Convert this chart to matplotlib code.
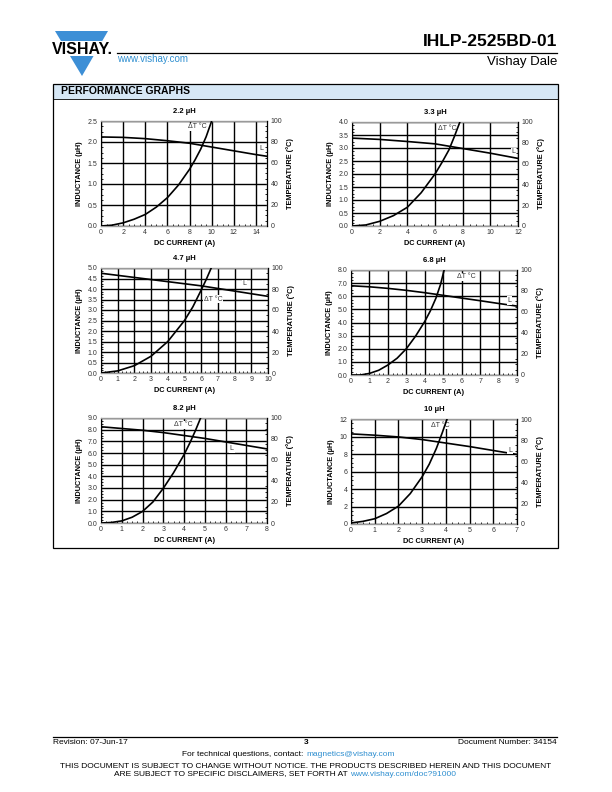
import matplotlib
matplotlib.use("Agg")
import matplotlib.pyplot as plt
from matplotlib.patches import Polygon, Rectangle
from matplotlib.lines import Line2D
from matplotlib.ticker import MultipleLocator, AutoMinorLocator

plt.rcParams['font.family'] = ['Liberation Sans', 'DejaVu Sans']

# ---------------- data ----------------
titles = ["2.2 µH", "3.3 µH", "4.7 µH", "6.8 µH", "8.2 µH", "10 µH"]
x_max = [15, 12, 10, 9, 8, 7]
x_step = [2, 2, 1, 1, 1, 1]
l_max = [2.5, 4.0, 5.0, 8.0, 9.0, 12]
l_step = [0.5, 0.5, 0.5, 1.0, 1.0, 2]
l_fmt = ["{:.1f}", "{:.1f}", "{:.1f}", "{:.1f}", "{:.1f}", "{:.0f}"]

# inductance curves (current A, inductance µH)
l_i_22 = [0, 2, 4, 6, 8, 10, 12, 14, 15]
l_v_22 = [2.12, 2.11, 2.08, 2.03, 1.97, 1.88, 1.79, 1.70, 1.66]
l_i_33 = [0, 2, 4, 6, 8, 10, 12]
l_v_33 = [3.38, 3.33, 3.25, 3.16, 2.98, 2.80, 2.60]
l_i_47 = [0, 2, 4, 6, 8, 10]
l_v_47 = [4.75, 4.55, 4.35, 4.15, 3.90, 3.65]
l_i_68 = [0, 1, 2, 3, 4, 5, 6, 7, 8, 9]
l_v_68 = [6.80, 6.72, 6.60, 6.45, 6.27, 6.07, 5.86, 5.66, 5.45, 5.25]
l_i_82 = [0, 1, 2, 3, 4, 5, 6, 7, 8]
l_v_82 = [8.25, 8.10, 7.95, 7.75, 7.50, 7.25, 6.95, 6.65, 6.35]
l_i_10 = [0, 1, 2, 3, 4, 5, 6, 7]
l_v_10 = [10.3, 10.15, 9.95, 9.65, 9.25, 8.85, 8.40, 7.95]

# temperature rise curves (current A, deltaT °C)
t_i_22 = [0, 1, 2, 3, 4, 5, 6, 7, 8, 8.5, 9, 9.5, 10.0]
t_v_22 = [0, 0.8, 3, 6.5, 11, 18, 27, 39, 54, 63, 73, 85, 100]
t_i_33 = [0, 1, 2, 3, 4, 5, 6, 6.5, 7, 7.4, 7.8]
t_v_33 = [0, 1, 4.5, 10, 18, 32, 50, 61, 73, 86, 100]
t_i_47 = [0, 1, 2, 3, 4, 5, 5.5, 6, 6.3, 6.6]
t_v_47 = [0, 2, 7, 16, 30, 50, 63, 79, 89, 100]
t_i_68 = [0, 0.5, 1, 1.5, 2, 2.5, 3, 3.5, 4, 4.3, 4.6, 4.85, 5.05]
t_v_68 = [0, 0, 1.5, 4.5, 9.5, 16, 25, 37, 51, 61, 73, 86, 100]
t_i_82 = [0, 0.5, 1, 1.5, 2, 2.5, 3, 3.5, 4, 4.3, 4.55, 4.8]
t_v_82 = [0, 0.5, 2, 5.5, 11, 20, 33, 48, 65, 77, 88, 100]
t_i_10 = [0, 0.5, 1, 1.5, 2, 2.5, 3, 3.3, 3.6, 3.85, 4.05]
t_v_10 = [1, 2.5, 5, 10, 17, 29, 45, 57, 72, 87, 100]

l_curves = [(l_i_22, l_v_22), (l_i_33, l_v_33), (l_i_47, l_v_47),
            (l_i_68, l_v_68), (l_i_82, l_v_82), (l_i_10, l_v_10)]
t_curves = [(t_i_22, t_v_22), (t_i_33, t_v_33), (t_i_47, t_v_47),
            (t_i_68, t_v_68), (t_i_82, t_v_82), (t_i_10, t_v_10)]

# label positions (data coords on inductance axis)
dt_pos = [(8.7, 2.36), (6.9, 3.75), (6.7, 3.52), (6.25, 7.47), (3.95, 8.4), (3.75, 11.3)]
l_pos = [(14.5, 1.84), (11.7, 2.85), (8.6, 4.24), (8.6, 5.7), (6.3, 6.35), (6.7, 8.45)]

# axes boxes in pixel coordinates (left, top, right, bottom)
boxes = [(101, 121, 267, 226), (352, 122, 518, 226),
         (101, 268, 268, 373), (351, 270, 517, 375),
         (101, 418, 267, 523), (351, 419, 517, 524)]

W, H = 612, 792
fig = plt.figure(figsize=(W / 100, H / 100), dpi=100)

def fx(x):
    return x / W

def fy(y):
    return 1 - y / H

blue = "#3d8fd6"
link = "#2f8fd0"

# ---------------- header ----------------
tri = Polygon([(fx(55), fy(31)), (fx(108), fy(31)), (fx(82), fy(76))],
              closed=True, transform=fig.transFigure, facecolor=blue, edgecolor="none")
fig.patches.append(tri)
fig.patches.append(Rectangle((fx(48), fy(56)), (116 - 48) / W, (56 - 41) / H,
                             transform=fig.transFigure, facecolor="white", edgecolor="none"))
fig.text(fx(82), fy(49), "VISHAY.", ha="center", va="center", fontsize=11.5,
         fontweight="bold", color="black")

fig.text(fx(557), fy(42), "IHLP-2525BD-01", ha="right", va="center", fontsize=12.5,
         fontweight="bold")
fig.add_artist(Line2D([fx(117), fx(557)], [fy(52.5), fy(52.5)], color="black", lw=0.9,
                      transform=fig.transFigure))
fig.text(fx(117), fy(59), "www.vishay.com", ha="left", va="center", fontsize=7, color=link)
fig.text(fx(557), fy(62), "Vishay Dale", ha="right", va="center", fontsize=9.5)

# performance box
fig.patches.append(Rectangle((fx(53), fy(99)), (558 - 53) / W, (99 - 84) / H,
                             transform=fig.transFigure, facecolor="#d6e7f5", edgecolor="none"))
fig.patches.append(Rectangle((fx(53), fy(548)), (558 - 53) / W, (548 - 84) / H,
                             transform=fig.transFigure, facecolor="none", edgecolor="black", lw=0.9))
fig.add_artist(Line2D([fx(53), fx(558)], [fy(99), fy(99)], color="black", lw=0.6,
                      transform=fig.transFigure))
fig.text(fx(61), fy(91.5), "PERFORMANCE GRAPHS", ha="left", va="center", fontsize=7.5,
         fontweight="bold")

# ---------------- graphs ----------------
for k in range(6):
    l, t, r, b = boxes[k]
    ax = fig.add_axes([fx(l), fy(b), (r - l) / W, (b - t) / H])
    ax.set_xlim(0, x_max[k])
    ax.set_ylim(0, l_max[k])
    ax.xaxis.set_major_locator(MultipleLocator(x_step[k]))
    ax.xaxis.set_minor_locator(AutoMinorLocator(4))
    nt = int(round(l_max[k] / l_step[k])) + 1
    ax.set_yticks([v * l_step[k] for v in range(nt)])
    ax.set_yticklabels([l_fmt[k].format(v * l_step[k]) for v in range(nt)])
    ax.yaxis.set_minor_locator(AutoMinorLocator(4))
    ax.grid(True, which="major", color="black", lw=1.0)
    for s in ax.spines.values():
        s.set_color("#9a9a9a")
        s.set_linewidth(1.0)
    ax.spines["left"].set_color("black")
    ax.spines["left"].set_linewidth(0.8)
    ax.tick_params(which="major", length=0, labelsize=5, colors="#333333", pad=2.5)
    ax.tick_params(which="minor", direction="in", length=1.2, width=0.6, color="black")
    ax.set_axisbelow(True)

    li, lv = l_curves[k]
    ax.plot(li, lv, color="black", lw=1.2, zorder=5)

    ax2 = ax.twinx()
    ax2.set_ylim(0, 100)
    ax2.yaxis.set_major_locator(MultipleLocator(20))
    ax2.yaxis.set_minor_locator(AutoMinorLocator(4))
    ax2.tick_params(which="major", length=0, labelsize=5, colors="#333333", pad=2.5)
    ax2.tick_params(which="minor", direction="in", length=1.2, width=0.6, color="black")
    for s in ax2.spines.values():
        s.set_visible(False)
    ax2.spines["right"].set_visible(True)
    ax2.spines["right"].set_color("black")
    ax2.spines["right"].set_linewidth(0.8)
    ti, tv = t_curves[k]
    ax2.plot(ti, tv, color="black", lw=1.2, zorder=5, clip_on=True)

    ax.set_title(titles[k], fontsize=5.5, fontweight="bold", pad=6)
    ax.set_xlabel("DC CURRENT (A)", fontsize=5.3, fontweight="bold", labelpad=2.5)
    ax.set_ylabel("INDUCTANCE (µH)", fontsize=5.3, fontweight="bold", labelpad=3.5)
    ax2.set_ylabel("TEMPERATURE (°C)", fontsize=5.3, fontweight="bold", labelpad=3)

    dx, dy = dt_pos[k]
    ax.text(dx, dy, "ΔT °C", fontsize=5, ha="center", va="center", color="#333333", zorder=6,
            bbox=dict(facecolor="white", edgecolor="none", pad=0.6))
    lx, ly = l_pos[k]
    ax.text(lx, ly, "L", fontsize=5, ha="center", va="center", color="#333333", zorder=6,
            bbox=dict(facecolor="white", edgecolor="none", pad=0.6))
    ax2.set_zorder(ax.get_zorder() + 1)
    ax2.patch.set_visible(False)

# ---------------- footer ----------------
fig.add_artist(Line2D([fx(53), fx(557)], [fy(736.5), fy(736.5)], color="black", lw=0.9,
                      transform=fig.transFigure))
fig.text(fx(53), fy(742), "Revision: 07-Jun-17", ha="left", va="center", fontsize=6)
fig.text(fx(306), fy(743), "3", ha="center", va="center", fontsize=6, fontweight="bold")
fig.text(fx(557), fy(742), "Document Number: 34154", ha="right", va="center", fontsize=6)
fig.text(fx(306), fy(754), "For technical questions, contact: ", ha="right", va="center",
         fontsize=6)
fig.text(fx(306), fy(754), "magnetics@vishay.com", ha="left", va="center", fontsize=6,
         color=link)
fig.text(fx(306), fy(766), "THIS DOCUMENT IS SUBJECT TO CHANGE WITHOUT NOTICE. THE PRODUCTS "
         "DESCRIBED HEREIN AND THIS DOCUMENT", ha="center", va="center", fontsize=6)
fig.text(fx(350), fy(774), "ARE SUBJECT TO SPECIFIC DISCLAIMERS, SET FORTH AT ", ha="right",
         va="center", fontsize=6)
fig.text(fx(350), fy(774), "www.vishay.com/doc?91000", ha="left", va="center", fontsize=6,
         color=link)

fig.savefig("out.png", dpi=100)
